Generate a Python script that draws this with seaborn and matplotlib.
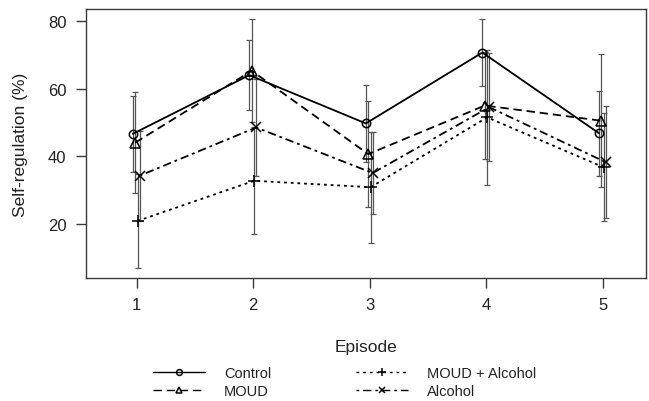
import matplotlib
matplotlib.use("Agg")
import matplotlib.pyplot as plt
import seaborn as sns
import numpy as np
import pandas as pd

# values
episodes = [1, 2, 3, 4, 5]
groups = ["Control", "MOUD", "MOUD + Alcohol", "Alcohol"]
control = [46.7, 64.1, 49.8, 70.8, 46.9]
control_err = [11.3, 10.3, 11.4, 10.0, 12.6]
moud = [44.1, 65.4, 40.7, 55.1, 50.6]
moud_err = [15.0, 15.3, 15.6, 15.8, 19.7]
moud_alc = [20.9, 32.8, 30.9, 51.6, 36.8]
moud_alc_err = [13.8, 15.8, 16.5, 20.0, 16.0]
alcohol = [34.3, 48.6, 35.1, 54.6, 38.3]
alcohol_err = [13.3, 14.4, 12.1, 16.0, 16.6]

means = {"Control": control, "MOUD": moud, "MOUD + Alcohol": moud_alc, "Alcohol": alcohol}
errs = {"Control": control_err, "MOUD": moud_err, "MOUD + Alcohol": moud_alc_err, "Alcohol": alcohol_err}

# styling
dodge = {"Control": -0.034, "MOUD": -0.013, "MOUD + Alcohol": 0.007, "Alcohol": 0.025}
markers = {"Control": "o", "MOUD": "^", "MOUD + Alcohol": "+", "Alcohol": "x"}
msizes = {"Control": 6, "MOUD": 6.5, "MOUD + Alcohol": 8, "Alcohol": 6.5}
styles = {"Control": "-", "MOUD": (0, (6, 3.5)), "MOUD + Alcohol": (0, (2, 2.8)),
          "Alcohol": (0, (2, 2.8, 6, 2.8))}

sns.set_style("ticks")
plt.rcParams["font.family"] = ["Liberation Sans", "DejaVu Sans"]
plt.rcParams["lines.scale_dashes"] = False
text_col = "#222222"
axis_col = "#3a3a3a"

fig = plt.figure(figsize=(6.49, 4.02), dpi=100)
ax = fig.add_axes([86 / 649, 1 - 279 / 402, 560 / 649, 269 / 402])

rows = []
for g in groups:
    for ep, m, e in zip(episodes, means[g], errs[g]):
        rows.append({"group": g, "episode": ep, "x": ep + dodge[g], "value": m, "err": e})
df = pd.DataFrame(rows)

for g in groups:
    d = df[df["group"] == g]
    ax.errorbar(d["x"], d["value"], yerr=d["err"], fmt="none", ecolor="#555555",
                elinewidth=0.9, capsize=2.4, capthick=0.9, zorder=2)

for g in groups:
    d = df[df["group"] == g]
    sns.lineplot(data=d, x="x", y="value", ax=ax, color="black", linewidth=1.3,
                 linestyle=styles[g], marker=markers[g], markersize=msizes[g],
                 markerfacecolor="none", markeredgecolor="black", markeredgewidth=1.1,
                 label=g, zorder=3, estimator=None, sort=False)

ax.set_xlim(0.565, 5.37)
ax.set_ylim(4.0, 83.7)
ax.set_xticks(episodes)
ax.set_yticks([20, 40, 60, 80])
for s in ax.spines.values():
    s.set_visible(True)
    s.set_color(axis_col)
    s.set_linewidth(1.0)
ax.tick_params(axis="both", direction="out", length=7, width=1.0, color=axis_col,
               labelsize=12, labelcolor=text_col, pad=7)

ax.set_xlabel("Episode", fontsize=12.5, color=text_col)
ax.set_ylabel("Self-regulation (%)", fontsize=12.5, color=text_col)
ax.xaxis.set_label_coords(0.5, -(348 - 279) / 269)
ax.xaxis.label.set_va("center")
ax.yaxis.set_label_coords(-(86 - 21) / 560, 0.5)
ax.yaxis.label.set_va("center")

handles, labels = ax.get_legend_handles_labels()
ax.get_legend().remove()
leg = fig.legend(handles, labels, loc="upper left", bbox_to_anchor=(153 / 649, 1 - 367 / 402),
                 ncol=2, frameon=False, fontsize=10.5, handlelength=3.56, handletextpad=1.3,
                 columnspacing=5.8, labelspacing=0.3, borderpad=0, borderaxespad=0,
                 labelcolor=text_col, markerscale=0.7)
for h in leg.legend_handles:
    h.set_linewidth(1.0)

fig.savefig("out.png", dpi=100, facecolor="white")
